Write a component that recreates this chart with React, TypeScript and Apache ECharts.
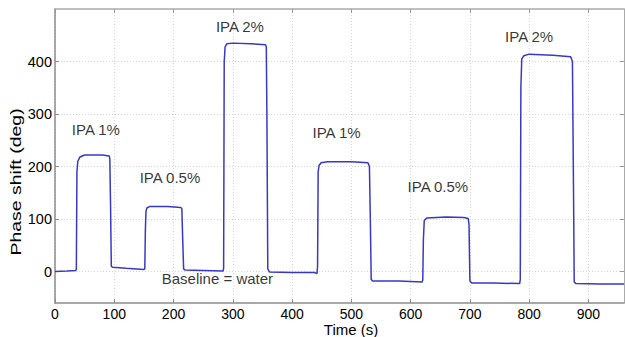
import React, { useEffect, useRef } from "react";
import * as echarts from "echarts";

const traceTime = [0, 20, 35, 36, 37, 38.5, 42, 50, 80, 91.5, 92.5, 93.8, 95, 97, 120, 150, 151.5, 152.5, 153.5, 155, 160, 190, 212, 214, 215.5, 217, 219, 250, 283.5, 284.5, 285.5, 287, 290, 300, 330, 355, 356.5, 357.5, 359, 362, 400, 438, 442, 443, 444, 445.5, 449, 460, 500, 528, 530.5, 532, 533.5, 536, 580, 619.5, 620.5, 621.5, 623, 627, 660, 690, 697, 698.5, 700, 703, 740, 784, 785, 786, 787.5, 791, 800, 840, 870, 873, 874.5, 876, 879, 920, 960];
const phaseShift = [0, 1, 2, 4, 190, 210, 218, 222, 222, 220, 215, 120, 10, 8, 6, 4, 5, 80, 115, 121, 124, 124, 122, 120, 60, 5, 3, 2, 1, 6, 400, 428, 434, 435, 434, 432, 428, 300, 5, -1, -2, -2, -4, 10, 190, 202, 207, 209, 209, 207, 200, 100, -15, -18, -18, -20, -16, 60, 97, 102, 104, 103, 101, 90, -18, -22, -22, -23, -15, 350, 405, 411, 414, 412, 409, 400, 200, -20, -23, -24, -24];

const annotationText = ["IPA 1%", "IPA 0.5%", "IPA 2%", "IPA 1%", "IPA 0.5%", "IPA 2%", "Baseline = water"];
const annotationX = [69, 194, 312, 475, 646, 800, 274];
const annotationY = [270, 180, 466, 264, 161, 448, -13];

const xTicks = [0, 100, 200, 300, 400, 500, 600, 700, 800, 900];
const yTicks = [0, 100, 200, 300, 400];
const yTitle = "Phase shift (deg)";
const xTitle = "Time (s)";

export default function App() {
  const ref = useRef<HTMLDivElement>(null);
  useEffect(() => {
    document.body.style.margin = "0";
    const chart = echarts.init(ref.current!, null, { renderer: "svg" });
    const font = "Liberation Sans, Arial, sans-serif";
    const gridLine = { show: true, lineStyle: { color: "#d4d4d4", type: [1, 2] as any, width: 1 } };
    chart.setOption({
      animation: false,
      backgroundColor: "#ffffff",
      grid: { left: 55, top: 9, width: 569, height: 294, containLabel: false, outerBoundsMode: "none" },
      graphic: [
        {
          type: "text",
          x: 15.5,
          y: 182,
          rotation: Math.PI / 2,
          scaleX: 1.3,
          style: {
            text: yTitle,
            fontFamily: font,
            fontSize: 15,
            fill: "#000",
            align: "center",
            verticalAlign: "middle",
          },
        },
        {
          type: "text",
          x: 351,
          y: 329.5,
          style: {
            text: xTitle,
            fontFamily: font,
            fontSize: 15,
            lineHeight: 15,
            fill: "#000",
            align: "center",
            verticalAlign: "middle",
          },
        },
      ],
      xAxis: [
        {
          type: "value",
          min: 0,
          max: 960,
          axisLine: { show: true, onZero: false, lineStyle: { color: "#8c8c8c", width: 1.5 } },
          axisTick: { show: true, inside: true, length: 4, customValues: xTicks, lineStyle: { color: "#8c8c8c" } },
          axisLabel: { customValues: xTicks, fontFamily: font, fontSize: 14, lineHeight: 14, color: "#000", margin: 4 },
          splitLine: gridLine,
        },
        {
          type: "value",
          position: "top",
          min: 0,
          max: 960,
          axisLine: { show: true, onZero: false, lineStyle: { color: "#aaaaaa", width: 1.5 } },
          axisTick: { show: true, inside: true, length: 4, customValues: xTicks, lineStyle: { color: "#999" } },
          axisLabel: { show: false },
          splitLine: { show: false },
        },
      ],
      yAxis: [
        {
          type: "value",
          min: -60,
          max: 500,
          axisLine: { show: true, onZero: false, lineStyle: { color: "#8c8c8c", width: 1.5 } },
          axisTick: { show: true, inside: true, length: 4, customValues: yTicks, lineStyle: { color: "#8c8c8c" } },
          axisLabel: { customValues: yTicks, fontFamily: font, fontSize: 14.5, color: "#000", margin: 3 },
          splitLine: gridLine,
        },
        {
          type: "value",
          position: "right",
          min: -60,
          max: 500,
          axisLine: { show: true, onZero: false, lineStyle: { color: "#aaaaaa", width: 1 } },
          axisTick: { show: true, inside: true, length: 4, customValues: yTicks, lineStyle: { color: "#999" } },
          axisLabel: { show: false },
          splitLine: { show: false },
        },
      ],
      series: [
        {
          type: "line",
          data: traceTime.map((t, i) => [t, phaseShift[i]]),
          showSymbol: false,
          symbol: "none",
          lineStyle: { color: "#3838c8", width: 1.5 },
          z: 3,
        },
        {
          type: "scatter",
          data: annotationX.map((x, i) => [x, annotationY[i], annotationText[i]]),
          symbolSize: 0,
          silent: true,
          label: {
            show: true,
            position: "inside",
            formatter: (p: any) => p.data[2],
            fontFamily: font,
            fontSize: 15,
            color: "#000",
          },
          z: 4,
        },
      ],
    });
    return () => chart.dispose();
  }, []);
  return <div ref={ref} style={{ width: 625, height: 337 }} />;
}
